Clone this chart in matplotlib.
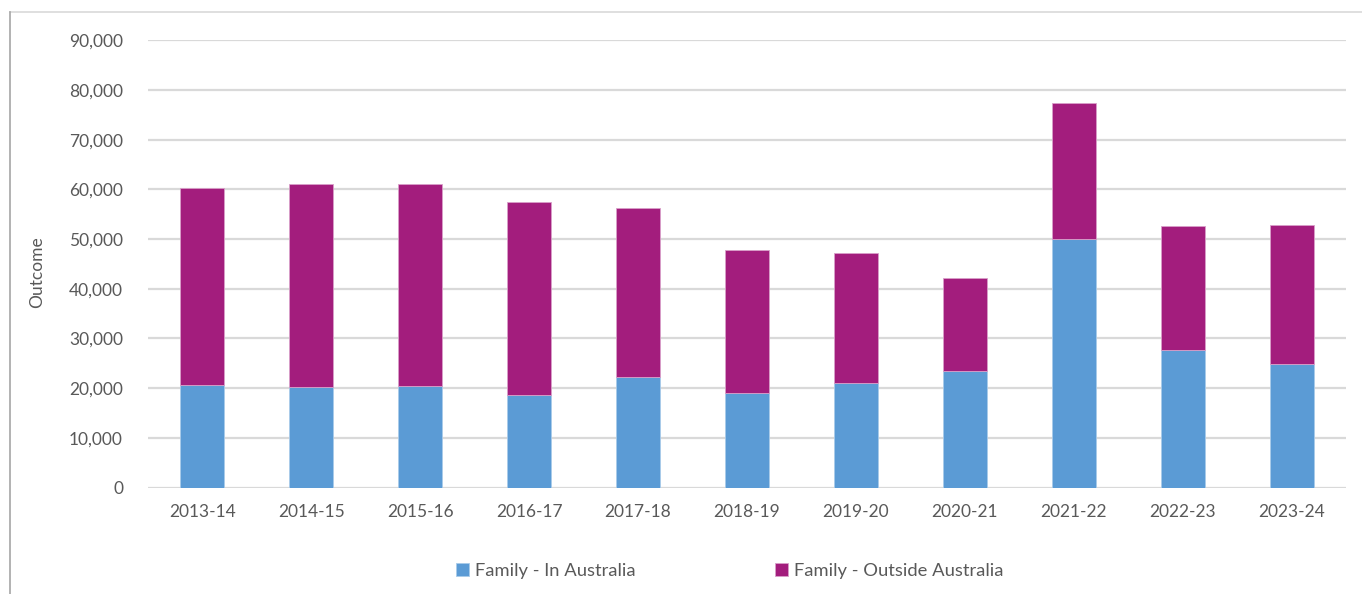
import numpy as np
import matplotlib
matplotlib.use("Agg")
import matplotlib.pyplot as plt
from matplotlib.lines import Line2D
from matplotlib.ticker import FuncFormatter

years = ["2013-14", "2014-15", "2015-16", "2016-17", "2017-18", "2018-19",
         "2019-20", "2020-21", "2021-22", "2022-23", "2023-24"]
in_australia = [20720, 20260, 20460, 18670, 22270, 18950, 21010, 23540, 50000, 27670, 24830]
outside_australia = [39540, 40740, 40540, 38710, 33910, 28750, 26170, 18530, 27420, 25010, 28050]

blue = "#5B9BD5"
purple = "#A31D7D"
grey_text = "#595959"

plt.rcParams["font.family"] = ["Lato", "DejaVu Sans"]

fig = plt.figure(figsize=(13.62, 5.94), dpi=100)
ax = fig.add_axes([148/1362, 1-487.5/594, 1198/1362, 447.2/594])

x = np.arange(len(years))
ax.bar(x, in_australia, width=0.404, color=blue, edgecolor="#A9CBEA", linewidth=0.6,
       label="Family - In Australia", zorder=3)
ax.bar(x, outside_australia, width=0.404, bottom=in_australia, color=purple,
       edgecolor="#D9A0C9", linewidth=0.6, label="Family - Outside Australia", zorder=3)

ax.set_xlim(-0.5, len(years) - 0.5)
ax.set_ylim(0, 90000)
ax.set_yticks(range(0, 90001, 10000))
ax.yaxis.set_major_formatter(FuncFormatter(lambda v, p: f"{int(v):,}"))
ax.set_xticks(x)
ax.set_xticklabels(years)
ax.grid(axis="y", color="#D9D9D9", linewidth=1.6, zorder=0)
ax.set_axisbelow(True)
for s in ax.spines.values():
    s.set_visible(False)
ax.tick_params(axis="both", length=0, labelsize=12.5, colors=grey_text)
ax.tick_params(axis="y", pad=18)
ax.tick_params(axis="x", pad=12)

fig.text(37/1362, 1-272/594, "Outcome", rotation=90, ha="center", va="center",
         fontsize=12.5, color=grey_text)

leg = fig.legend(loc="center", bbox_to_anchor=(730/1362, 1-571/594), ncol=2,
                 frameon=False, fontsize=13.2, handlelength=0.7, handleheight=0.7,
                 handletextpad=0.35, columnspacing=7.6)
for t in leg.get_texts():
    t.set_color(grey_text)

# outer chart frame (top and left edges visible)
fig.add_artist(Line2D([9.5/1362, 1], [1-12/594, 1-12/594], color="#D9D9D9", linewidth=1.2))
fig.add_artist(Line2D([9.5/1362, 9.5/1362], [0, 1-12/594], color="#A6A6A6", linewidth=1.2))

fig.savefig("out.png", dpi=100, facecolor="white")
